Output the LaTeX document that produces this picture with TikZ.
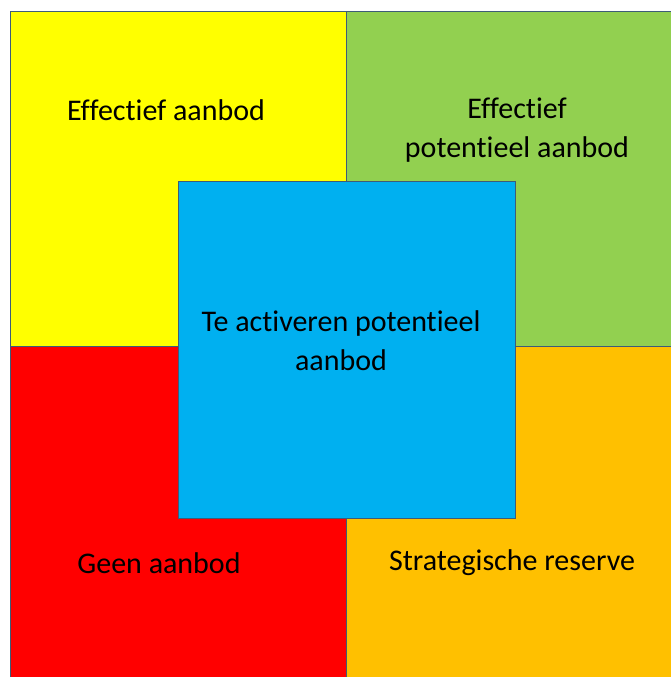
\documentclass[tikz,border=0pt]{standalone}
\usepackage{fontspec}
\setmainfont[Ligatures=NoCommon]{Carlito}
\definecolor{vakgeel}{HTML}{FFFF00}
\definecolor{vakgroen}{HTML}{92D050}
\definecolor{vakrood}{HTML}{FF0000}
\definecolor{vakoranje}{HTML}{FFC000}
\definecolor{vakblauw}{HTML}{00B0F0}
\definecolor{vaklijn}{HTML}{3E5C78}
\begin{document}
\begin{tikzpicture}[x=1pt,y=1pt,
    vak/.style={draw=vaklijn, line width=1pt},
    tekst/.style={align=center, font=\fontsize{30}{39}\selectfont, inner sep=0pt}]

                    % margins
                    \useasboundingbox (0,0) rectangle (670,677);

                    % quadrants
                    \filldraw[vak,fill=vakgeel]   (10,330) rectangle (346,665);
                    \filldraw[vak,fill=vakgroen]  (346,330) rectangle (674,665);
                    \filldraw[vak,fill=vakrood]   (10,-4) rectangle (346,330);
                    \filldraw[vak,fill=vakoranje] (346,-4) rectangle (674,330);

                    % centre square
                    \filldraw[vak,fill=vakblauw] (178,158) rectangle (515,495);

                    % labels
                    \node[tekst] (effectief) at (166,567) {Effectief aanbod};
                    \node[tekst] (potentieel) at (517,547) {Effectief\\potentieel aanbod};
                    \node[tekst] (activeren) at (341,336) {Te activeren potentieel\\aanbod};
                    \node[tekst] (geen) at (159,114) {Geen aanbod};
                    \node[tekst] (reserve) at (512,114) {Strategische reserve};

\end{tikzpicture}
\end{document}
